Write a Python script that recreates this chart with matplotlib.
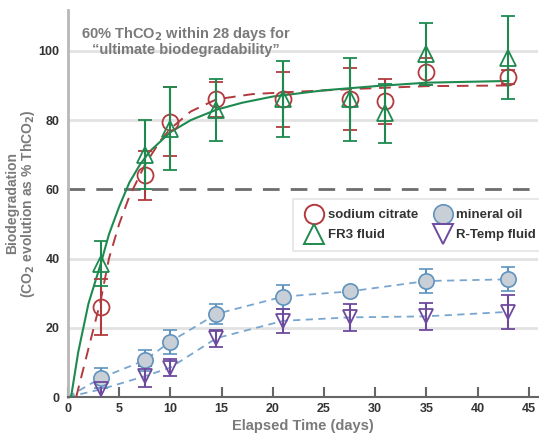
import matplotlib
matplotlib.use("Agg")
import matplotlib.pyplot as plt
import numpy as np

plt.rcParams['font.family'] = ['Liberation Sans', 'DejaVu Sans']
plt.rcParams['font.weight'] = 'bold'

# ---- data ----
days = [3.2, 7.5, 10.0, 14.5, 21.0, 27.5, 31.0, 35.0, 43.0]
days_oil = [3.2, 7.5, 10.0, 14.5, 21.0, 27.5, 35.0, 43.0]

citrate = [26, 64, 79.5, 86, 86, 86, 85.5, 94, 92.5]
citrate_err = [8, 7, 10, 5, 8, 9, 6.5, 4, 2]

fr3 = [38.5, 70, 77.5, 83, 86, 86, 82, 99, 98]
fr3_err = [6.5, 10, 12, 9, 11, 12, 8.5, 9, 12]

oil = [5.5, 10.6, 16, 24, 29, 30.5, 33.5, 34]
oil_err = [3, 3, 3.5, 3, 3.5, 1, 3.5, 3.5]

rtemp = [2.2, 6, 8.5, 17, 22, 23, 23.3, 24.6]
rtemp_err = [3, 3, 2.5, 2.5, 3.5, 4, 4, 5]

# fitted curves
fr3_fit_x = [0.3, 1.0, 2.0, 3.2, 4.0, 5.0, 6.0, 7.0, 8.0, 10.0, 12.0, 14.5, 17.0, 20.0, 25.0, 30.0, 35.0, 43.0]
fr3_fit_y = [0, 13, 27, 38.5, 47, 55, 62, 67, 71, 76.5, 80, 83, 85, 86.8, 88.6, 89.8, 90.8, 91.3]
cit_fit_x = [0.8, 2.0, 3.2, 4.0, 5.0, 6.0, 7.5, 9.0, 10.0, 12.0, 14.5, 18.0, 21.0, 28.0, 35.0, 43.0]
cit_fit_y = [0, 14, 28, 40, 50, 58, 67, 74, 77.5, 82.5, 86, 87.5, 88, 89, 89.8, 90]
oil_line_x = [0] + days_oil
oil_line_y = [0] + oil
rt_line_x = [0] + days_oil
rt_line_y = [0] + rtemp

threshold = 60

red = '#b23a3e'
green = '#1e8a4f'
oil_face = '#c9cfd6'
oil_edge = '#5f93bf'
purple = '#6e4a9e'
bluedash = '#79a6cf'
grey_text = '#7a7a7a'

fig = plt.figure(figsize=(5.39, 4.37), dpi=100)
ax = fig.add_axes([68/539, 1-397/437, 470/539, 387/437])
ax.set_xlim(0, 45.9)
ax.set_ylim(0, 111.8)

for yv in [20, 40, 80, 100]:
    ax.axhline(yv, color='#e2e2e2', lw=2, zorder=0)
ax.axhline(threshold, color='#6d6d6d', lw=2, dashes=(6, 4), zorder=1)

# fits
ax.plot(oil_line_x, oil_line_y, color=bluedash, lw=1.3, dashes=(4, 3), zorder=2)
ax.plot(rt_line_x, rt_line_y, color=bluedash, lw=1.3, dashes=(4, 3), zorder=2)
ax.plot(cit_fit_x, cit_fit_y, color=red, lw=1.4, dashes=(6, 4), zorder=3)
ax.plot(fr3_fit_x, fr3_fit_y, color=green, lw=1.5, zorder=3)

ekw = dict(elinewidth=1.5, capsize=5, capthick=1.5, ls='none')
ax.errorbar(days_oil, oil, yerr=oil_err, ecolor=oil_edge, fmt='o', ms=11,
            mfc=oil_face, mec=oil_edge, mew=1.2, zorder=4, **ekw)
ax.errorbar(days_oil, rtemp, yerr=rtemp_err, ecolor=purple, fmt='v', ms=10.5,
            mfc='none', mec=purple, mew=1.3, zorder=4, **ekw)
ax.errorbar(days, citrate, yerr=citrate_err, ecolor=red, fmt='o', ms=11.5,
            mfc='none', mec=red, mew=1.3, zorder=5, **ekw)
ax.errorbar(days, fr3, yerr=fr3_err, ecolor=green, fmt='^', ms=11.5,
            mfc='none', mec=green, mew=1.3, zorder=6, **ekw)

# spines and ticks
for s in ['top', 'right']:
    ax.spines[s].set_visible(False)
ax.spines['left'].set_color('#b8b8b8')
ax.spines['left'].set_linewidth(2)
ax.spines['bottom'].set_color('#666666')
ax.spines['bottom'].set_linewidth(1.5)
ax.set_xticks([0, 5, 10, 15, 20, 25, 30, 35, 40, 45])
ax.set_yticks([0, 20, 40, 60, 80, 100])
ax.tick_params(axis='x', direction='in', length=7, width=1.5, color='#666666',
               labelsize=9, labelcolor='#333333', pad=4)
ax.tick_params(axis='y', length=0, labelsize=9, labelcolor='#333333', pad=6)
for lab in ax.get_xticklabels() + ax.get_yticklabels():
    lab.set_fontweight('bold')

ax.set_xlabel('Elapsed Time (days)', color=grey_text, fontsize=10.5, fontweight='bold', labelpad=3)
ax.set_ylabel('Biodegradation\n(CO$_2$ evolution as % ThCO$_2$)', color=grey_text,
              fontsize=10, fontweight='bold', labelpad=1, linespacing=1.05)

ax.text(11.5, 107.5, '60% ThCO$_2$ within 28 days for\n\u201cultimate biodegradability\u201d',
        color=grey_text, fontsize=10.5, fontweight='bold', ha='center', va='top',
        linespacing=1.0)

# legend
from matplotlib.lines import Line2D
handles = [
    Line2D([], [], ls='none', marker='o', ms=14, mfc='none', mec=red, mew=1.4),
    Line2D([], [], ls='none', marker='^', ms=14, mfc='none', mec=green, mew=1.4),
    Line2D([], [], ls='none', marker='o', ms=14, mfc=oil_face, mec=oil_edge, mew=1.2),
    Line2D([], [], ls='none', marker='v', ms=14, mfc='none', mec=purple, mew=1.4),
]
labels = ['sodium citrate', 'FR3 fluid', 'mineral oil', 'R-Temp fluid']
leg = ax.legend(handles, labels, ncol=2, loc='upper left',
                bbox_to_anchor=((293-68)/470, (397-199)/387),
                frameon=True, fancybox=False, edgecolor='#dddddd',
                handletextpad=0.2, columnspacing=1.0, borderpad=0.75,
                labelspacing=0.6, handlelength=1.7, borderaxespad=0,
                prop={'weight': 'bold', 'size': 9.5})
leg.get_frame().set_linewidth(1.2)
for t in leg.get_texts():
    t.set_color('#333333')

fig.savefig('out.png', dpi=100)
